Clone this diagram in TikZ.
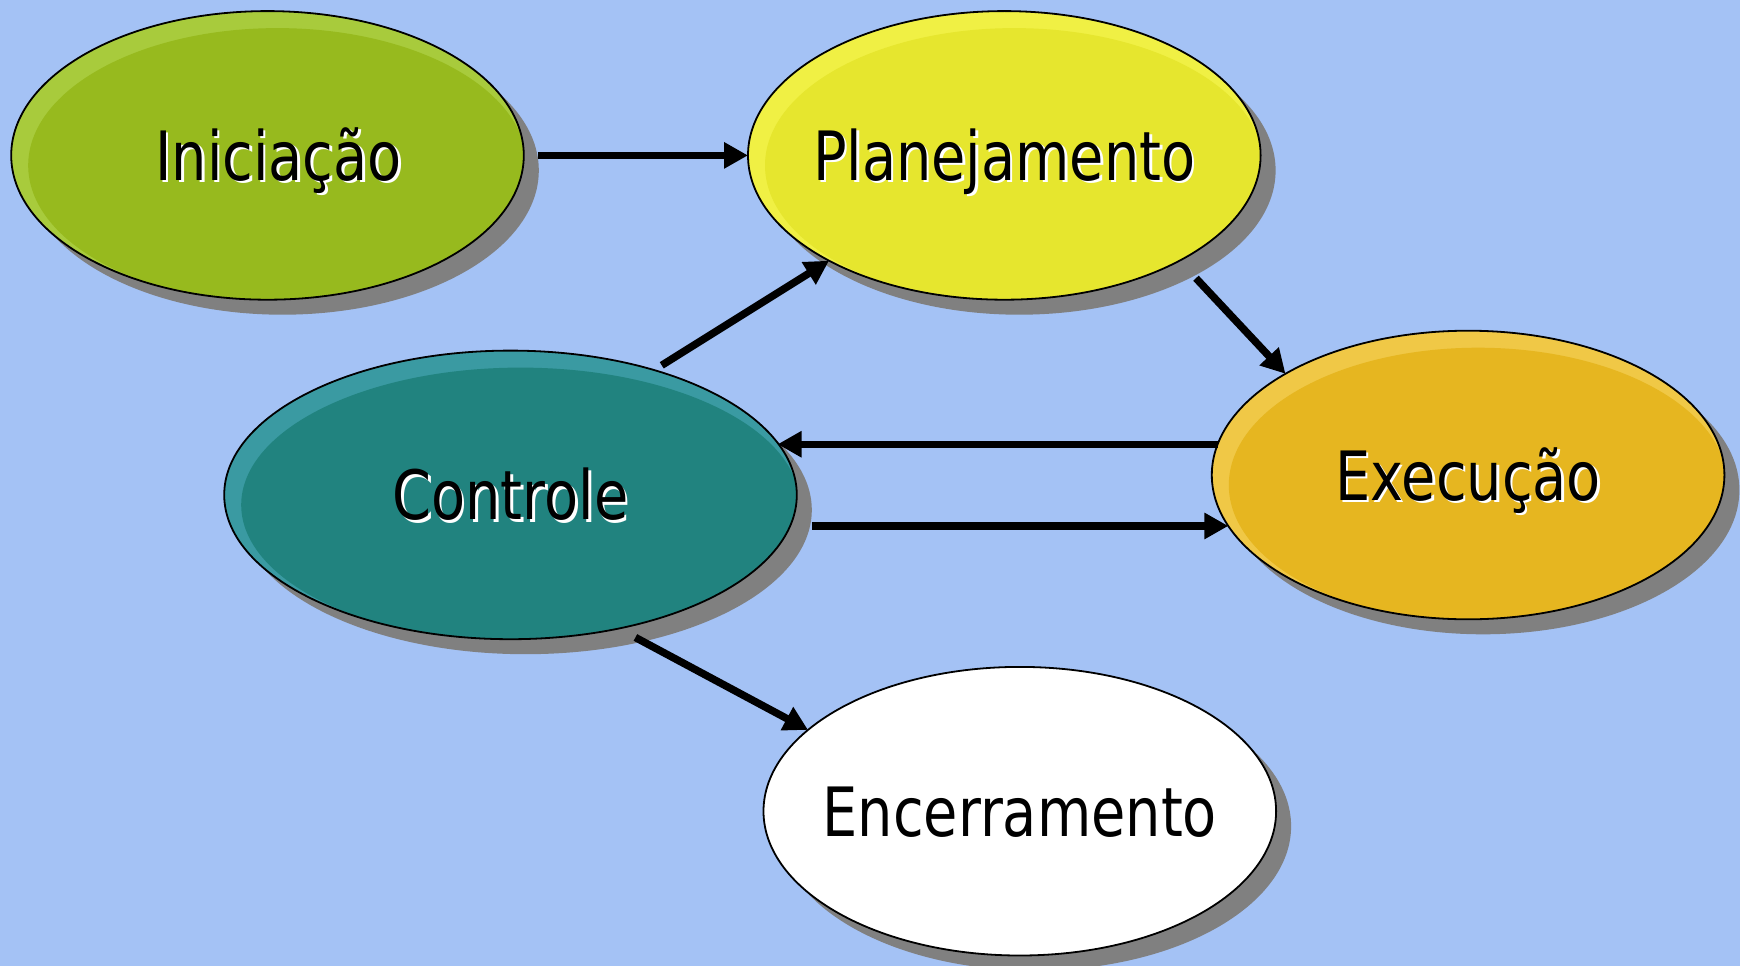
\documentclass[tikz,border=0pt]{standalone}
\usepackage{fontspec}
\setmainfont[FakeStretch=0.82]{DejaVu Sans}
\usetikzlibrary{shapes.geometric,arrows.meta,calc}
\definecolor{bg}{HTML}{A4C2F5}
\definecolor{shadowgray}{HTML}{808080}
\definecolor{greenL}{HTML}{A8CB3C}
\definecolor{greenM}{HTML}{97BA1E}
\definecolor{yellowL}{HTML}{F0F044}
\definecolor{yellowM}{HTML}{E6E62E}
\definecolor{goldL}{HTML}{F0C846}
\definecolor{goldM}{HTML}{E6B620}
\definecolor{tealL}{HTML}{3A9AA2}
\definecolor{tealM}{HTML}{21837F}
\newcommand\shtext[1]{\makebox[0pt]{\rlap{\hspace{2.5pt}\raisebox{-2.5pt}[0pt][0pt]{\color{white}#1}}#1}}
\begin{document}
\begin{tikzpicture}[x=1pt,y=-1pt,
  phase/.style={ellipse, draw=black, line width=1.8pt, inner sep=0pt, outer sep=0pt,
    minimum height=288.6pt, text height=50pt, text depth=0pt,
    font=\fontsize{68}{80}\selectfont},
  rim/.style n args={3}{path picture={\fill[#1] ($(path picture bounding box.center)+(10,10)$) ellipse [x radius=#2, y radius=#3];}},
  conn/.style={line width=7.5pt, -{Triangle[length=24pt,width=25pt]}},
  shad/.style={fill=shadowgray}]
\fill[bg] (0,0) rectangle (1740,966);
\useasboundingbox (0,0) rectangle (1740,966);
% shadows
\fill[shad] (282.5,170.4) ellipse [x radius=256.3, y radius=144.3];
\fill[shad] (1019.3,170.4) ellipse [x radius=256.3, y radius=144.3];
\fill[shad] (1483.1,490) ellipse [x radius=256.3, y radius=144.3];
\fill[shad] (525.5,509.9) ellipse [x radius=286.3, y radius=144.3];
\fill[shad] (1034.8,826.2) ellipse [x radius=256.3, y radius=144.3];
% phases
\node[phase, fill=greenL, minimum width=512.6pt, rim={greenM}{249.3}{137.3}] (ini) at (267.5,155.4) {\hspace*{22pt}\shtext{Iniciação}};
\node[phase, fill=yellowL, minimum width=512.6pt, rim={yellowM}{249.3}{137.3}] (pla) at (1004.3,155.4) {\shtext{Planejamento}};
\node[phase, fill=goldL, minimum width=512.6pt, rim={goldM}{249.3}{137.3}] (exe) at (1468.1,475) {\shtext{Execução}};
\node[phase, fill=tealL, minimum width=572.6pt, rim={tealM}{279.3}{137.3}] (con) at (510.5,494.9) {\shtext{Controle}};
\node[phase, fill=white, minimum width=512.6pt] (enc) at (1019.8,811.2) {\shtext{Encerramento}};
% connectors
\draw[conn] ($(ini.east)+(14,0)$) -- (pla.west);
\draw[conn, shorten <=9pt] (con.41) -- (pla.211);
\draw[conn, shorten <=24pt] (pla.329) -- (exe.151);
\draw[conn] (exe.173) -- (exe.173 -| con.11);
\draw[conn] ($(exe.192 -| con.east)+(15,0)$) -- (exe.192);
\draw[conn, shorten <=19pt] (con.309) -- (enc.159);
\end{tikzpicture}
\end{document}
